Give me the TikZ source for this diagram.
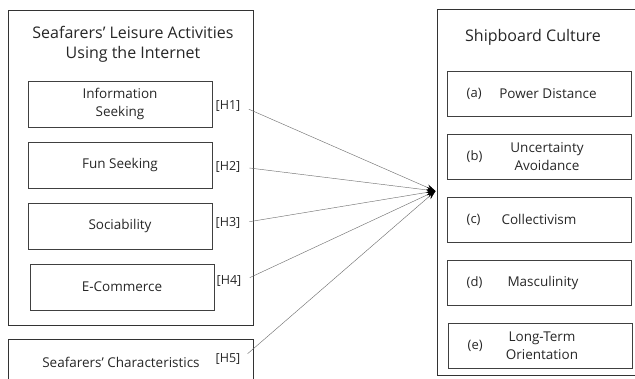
\documentclass[tikz,border=0pt]{standalone}
\usepackage{fontspec}
\setmainfont{Open Sans}
\usetikzlibrary{positioning,arrows.meta}

\tikzset{
  outbox/.style={draw=black!80, line width=0.8pt},
  inbox/.style={draw=black!75, line width=1pt, minimum width=184pt, minimum height=46pt,
    inner sep=0pt, align=center, text=black!85, font=\fontsize{13.5}{18}\selectfont},
  cultbox/.style={inbox, minimum height=45pt},
  boxtitle/.style={align=center, text=black!85, font=\fontsize{16}{20}\selectfont},
  hlabel/.style={inner sep=1pt, text=black!85, font=\fontsize{12.5}{15}\selectfont},
  tag/.style={anchor=west, inner sep=0pt, text=black!85, font=\fontsize{13}{15}\selectfont},
  link/.style={draw=black!55, line width=0.45pt, shorten <=8pt,
    -{Stealth[length=9pt,width=6pt,black]}},
}

\begin{document}
\begin{tikzpicture}[x=1pt,y=-1pt]
        \useasboundingbox (0,0) rectangle (635,378);
        % left side
        \draw[outbox] (8,10) rectangle (253,325);
        \node[boxtitle] (lt) at (133,44) {Seafarers' Leisure Activities\\Using the Internet};
        \node[inbox] (info) at (120,104) {Information\\Seeking};
        \node[inbox, below=14pt of info] (fun) {Fun Seeking};
        \node[inbox, below=14pt of fun] (soc) {Sociability};
        \node[inbox, below=14pt of soc, xshift=2pt] (ecom) {E-Commerce};
        \node[hlabel] (h1) at (228,106) {[H1]};
        \node[hlabel] (h2) at (228,167) {[H2]};
        \node[hlabel] (h3) at (228,223) {[H3]};
        \node[hlabel] (h4) at (229,281) {[H4]};
        \draw[outbox] (8,339) rectangle (253,395);
        \node[text=black!85, font=\fontsize{13.5}{16}\selectfont] (sc) at (121,362) {Seafarers' Characteristics};
        \node[hlabel] (h5) at (228,359) {[H5]};

        % right side
        \draw[outbox] (437,9) rectangle (645,375);
        \node[boxtitle] (rt) at (533,37) {Shipboard Culture};
        \node[cultbox] (pd) at (539,93.5) {};
        \node[cultbox, below=17pt of pd] (ua) {};
        \node[cultbox, below=17pt of ua] (col) {};
        \node[cultbox, below=17pt of col] (mas) {};
        \node[cultbox, below=17pt of mas, xshift=1pt] (lto) {};
        \node[tag] (ta) at ([xshift=20pt]pd.west) {(a)};
        \node[tag] (tb) at ([xshift=20pt]ua.west) {(b)};
        \node[tag] (tc) at ([xshift=20pt]col.west) {(c)};
        \node[tag] (td) at ([xshift=20pt]mas.west) {(d)};
        \node[tag] (te) at ([xshift=20pt]lto.west) {(e)};
        \node[inbox, draw=none, minimum width=0pt, minimum height=0pt] at ([xshift=9pt]pd.center) {Power Distance};
        \node[inbox, draw=none, minimum width=0pt, minimum height=0pt] at ([xshift=8pt]ua.center) {Uncertainty\\Avoidance};
        \node[inbox, draw=none, minimum width=0pt, minimum height=0pt] at ([xshift=0pt]col.center) {Collectivism};
        \node[inbox, draw=none, minimum width=0pt, minimum height=0pt] at ([xshift=4pt]mas.center) {Masculinity};
        \node[inbox, draw=none, minimum width=0pt, minimum height=0pt] at ([xshift=2pt]lto.center) {Long-Term\\Orientation};

        % hypotheses
        \coordinate (tip) at (435.5,191);
        \foreach \h in {h1,h2,h3,h4,h5}
            \draw[link] (\h.east) -- (tip);
\end{tikzpicture}
\end{document}
